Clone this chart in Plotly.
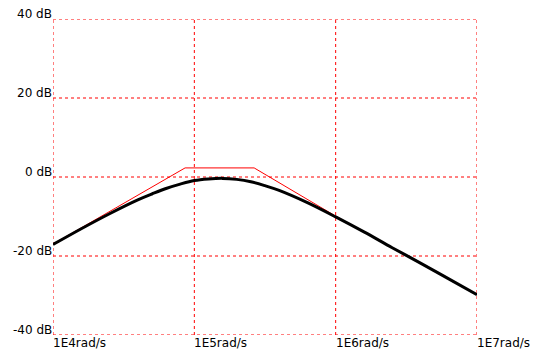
import math
import plotly.graph_objects as go

# Exact (black) magnitude response
omega = [1.0e4, 1.585e4, 2.512e4, 3.981e4, 5.012e4, 6.31e4, 7.943e4, 1.0e5, 1.259e5,
         1.585e5, 1.995e5, 2.512e5, 3.162e5, 3.981e5, 6.31e5, 1.0e6, 1.585e6,
         2.512e6, 3.981e6, 6.31e6, 1.0e7]
mag_db = [-17.1, -13.1, -9.3, -5.8, -4.3, -2.9, -1.8, -0.9, -0.5,
          -0.35, -0.6, -1.2, -2.2, -3.4, -6.5, -10.1, -13.9,
          -17.9, -21.8, -25.8, -29.8]

# Straight-line (red) asymptotic approximation
asym_omega = [1.0e4, 8.6e4, 2.65e5, 1.0e6, 1.0e7]
asym_db = [-17.0, 2.3, 2.3, -9.9, -29.8]

# Axis ticks
x_ticks = [1e4, 1e5, 1e6, 1e7]
x_labels = ["1E4rad/s", "1E5rad/s", "1E6rad/s", "1E7rad/s"]
y_ticks = [40, 20, 0, -20, -40]
y_labels = ["40 dB", "20 dB", "0 dB", "-20 dB", "-40 dB"]

FONT = dict(family="DejaVu Sans", size=12, color="black")
GRID = dict(color="#ff0000", width=1, dash="dot")

fig = go.Figure()
fig.add_trace(go.Scatter(x=asym_omega, y=asym_db, mode="lines",
                         line=dict(color="#ff0000", width=1), hoverinfo="skip",
                         cliponaxis=False))
fig.add_trace(go.Scatter(x=omega, y=mag_db, mode="lines", line_shape="spline",
                         line=dict(color="black", width=3), hoverinfo="skip",
                         cliponaxis=False))

shapes = []
for v in x_ticks:
    shapes.append(dict(type="line", xref="x", yref="paper", x0=v, x1=v, y0=0, y1=1,
                       line=GRID, layer="below"))
for v in y_ticks:
    shapes.append(dict(type="line", xref="paper", yref="y", x0=0, x1=1, y0=v, y1=v,
                       line=GRID, layer="below"))

annotations = []
for v, t in zip(x_ticks, x_labels):
    annotations.append(dict(x=math.log10(v), y=0, xref="x", yref="paper",
                            text=t, showarrow=False, xanchor="left", yanchor="top",
                            xshift=-1, yshift=0, font=FONT, borderpad=0))
for v, t in zip(y_ticks, y_labels):
    annotations.append(dict(x=0, y=v, xref="paper", yref="y",
                            text=t, showarrow=False, xanchor="right", yanchor="bottom",
                            xshift=0, yshift=-3, font=FONT, borderpad=0))

fig.update_layout(
    width=535, height=356,
    margin=dict(l=53, r=58, t=19, b=21),
    paper_bgcolor="white", plot_bgcolor="white",
    showlegend=False,
    annotations=annotations,
    shapes=shapes,
    xaxis=dict(type="log", range=[4, 7], showticklabels=False, showgrid=False,
               zeroline=False, showline=False, ticks=""),
    yaxis=dict(range=[-40, 40], showticklabels=False, showgrid=False,
               zeroline=False, showline=False, ticks=""),
)

fig.write_html("out.html")
